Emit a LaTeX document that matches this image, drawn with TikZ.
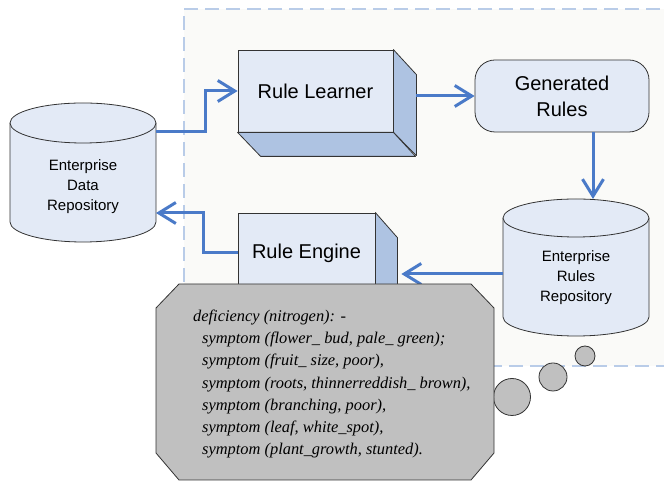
\documentclass[tikz,border=0pt]{standalone}
\usepackage{fontspec}
\setmainfont{Liberation Sans}
\newfontfamily\notefont{Liberation Serif}
\usetikzlibrary{arrows.meta,calc}

\definecolor{facefill}{HTML}{E3EAF6}
\definecolor{depthfill}{HTML}{AEC3E2}
\definecolor{flowblue}{HTML}{4A7AC8}
\definecolor{dashblue}{HTML}{B9CCE8}
\definecolor{areafill}{HTML}{FAFAF8}
\definecolor{notegray}{HTML}{C0C0C0}

\begin{document}
\begin{tikzpicture}[x=1pt, y=1pt, >={Straight Barb[length=17pt,width=21pt]},
    face/.style={draw=black!80, fill=facefill, line width=0.8pt},
    depth/.style={draw=black!80, fill=depthfill, line width=0.8pt, line join=round},
    boxtext/.style={font=\fontsize{20}{26}\selectfont, align=center, inner sep=0pt},
    repotext/.style={font=\fontsize{15}{20}\selectfont, align=center, inner sep=0pt},
    flow/.style={->, draw=flowblue, line width=3pt},
    bubble/.style={draw=black!80, fill=notegray, line width=0.8pt}]

    \clip (0,0) rectangle (664,481);

    % dashed area round the learning part
    \draw[draw=dashblue, fill=areafill, line width=1.5pt, dash pattern=on 14pt off 7pt]
        (184,115) rectangle (700,472);

    % data repository
    \draw[face] (10,358) -- (10,259)
        arc[start angle=180, end angle=360, x radius=73pt, y radius=20pt] -- (156,358);
    \draw[face] (83,358) ellipse[x radius=73pt, y radius=20pt];
    \node[repotext] (datarepo) at (83,294) {Enterprise\\Data\\Repository};
    \coordinate (dataout) at (156,349);
    \coordinate (datain) at (156,268);

    % rules repository
    \draw[face] (503,263) -- (503,164)
        arc[start angle=180, end angle=360, x radius=73pt, y radius=19pt] -- (649,263);
    \draw[face] (576,263) ellipse[x radius=73pt, y radius=19pt];
    \node[repotext] (rulesrepo) at (576,203) {Enterprise\\Rules\\Repository};
    \coordinate (rulestop) at (593,282);
    \coordinate (rulesout) at (503,207);

    % learner box
    \node[face, boxtext, minimum width=155pt, minimum height=82pt] (learner)
        at (315.5,390) {Rule Learner};
    \draw[depth] (learner.north east) -- ++(23,-25) -- ++(0,-81) -- (learner.south east) -- cycle;
    \draw[depth] (learner.south west) -- ++(23,-24) -- ++(155,0) -- (learner.south east) -- cycle;

    % engine box
    \node[face, boxtext, minimum width=137pt, minimum height=80pt] (engine)
        at (306.5,228) {Rule Engine};
    \draw[depth] (engine.north east) -- ++(22,-25) -- ++(0,-80) -- (engine.south east) -- cycle;
    \draw[depth] (engine.south west) -- ++(22,-25) -- ++(137,0) -- (engine.south east) -- cycle;

    % generated rules
    \node[face, boxtext, rounded corners=20pt, minimum width=174pt, minimum height=72pt]
        (generated) at (562,385) {Generated\\Rules};

    % flows
    \draw[flow] (dataout) -- ++(49,0) |- (learner.west);
    \draw[flow] ($(learner.east)+(23,-5)$) -- (generated.west);
    \draw[flow] (generated.south -| rulestop) -- (rulestop);
    \draw[flow] (rulesout) -- ($(engine.east)+(26,-21)$);
    \draw[flow] (engine.west) -- ++(-34,0) |- (datain);

    % thought bubbles
    \draw[bubble] (585,125) circle[radius=10pt];
    \draw[bubble] (553,104) circle[radius=14pt];
    \draw[bubble] (512,84) circle[radius=18.5pt];

    % note with the rule
    \draw[draw=black!80, fill=notegray, line width=0.8pt]
        (179,197) -- (471,197) -- (494,173) -- (494,28) -- (471,1)
        -- (179,1) -- (156,28) -- (156,173) -- cycle;
    \node[anchor=west, align=left, inner sep=0pt,
          font=\notefont\itshape\fontsize{16.4}{22.2}\selectfont] (symptoms) at (193,97)
        {deficiency (nitrogen): -\\
         \hspace*{9pt}symptom (flower\_ bud, pale\_ green);\\
         \hspace*{9pt}symptom (fruit\_ size, poor),\\
         \hspace*{9pt}symptom (roots, thinnerreddish\_ brown),\\
         \hspace*{9pt}symptom (branching, poor),\\
         \hspace*{9pt}symptom (leaf, white\_spot),\\
         \hspace*{9pt}symptom (plant\_growth, stunted).};
\end{tikzpicture}
\end{document}
